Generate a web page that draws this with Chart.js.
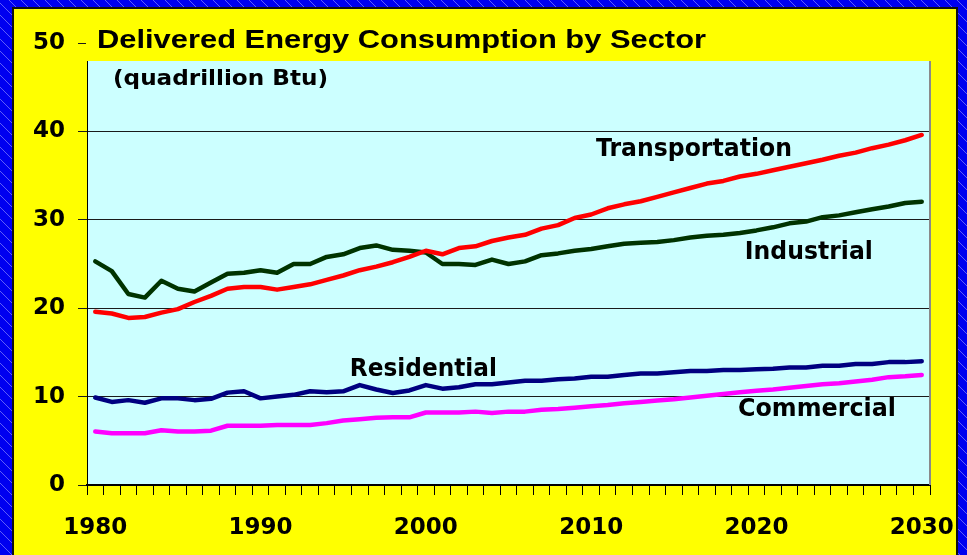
<!DOCTYPE html>
<html lang="en">
<head>
<meta charset="UTF-8">
<title>Delivered Energy Consumption by Sector</title>
<script src="https://cdn.jsdelivr.net/npm/chart.js@4.4.1/dist/chart.umd.min.js"></script>
<style>
  html, body { margin: 0; padding: 0; background: #0000f0; overflow: hidden; }
  canvas { display: block; }
</style>
</head>
<body>
<canvas id="chart" width="967" height="555"></canvas>
<script>
// years on the category axis
var years = [];
for (var yr = 1980; yr <= 2030; yr++) years.push(yr);

// quadrillion Btu
var transportation = [19.6, 19.4, 18.9, 19.0, 19.5, 19.9, 20.7, 21.4, 22.2, 22.4,
  22.4, 22.1, 22.4, 22.7, 23.2, 23.7, 24.3, 24.7, 25.2, 25.8,
  26.5, 26.1, 26.8, 27.0, 27.6, 28.0, 28.3, 29.0, 29.4, 30.2,
  30.6, 31.3, 31.75, 32.1, 32.6, 33.1, 33.6, 34.1, 34.4, 34.9,
  35.2, 35.6, 36.0, 36.4, 36.8, 37.25, 37.6, 38.1, 38.5, 39.0,
  39.6];
var industrial = [25.3, 24.2, 21.6, 21.2, 23.1, 22.2, 21.9, 22.9, 23.9, 24.0,
  24.3, 24.0, 25.0, 25.0, 25.8, 26.1, 26.8, 27.1, 26.6, 26.5,
  26.3, 25.0, 25.0, 24.9, 25.5, 25.0, 25.3, 26.0, 26.2, 26.5,
  26.7, 27.0, 27.3, 27.4, 27.5, 27.7, 28.0, 28.2, 28.3, 28.5,
  28.8, 29.15, 29.6, 29.8, 30.3, 30.5, 30.85, 31.2, 31.5, 31.9,
  32.05];
var residential = [9.9, 9.4, 9.6, 9.3, 9.8, 9.8, 9.6, 9.75, 10.45, 10.6,
  9.8, 10.0, 10.2, 10.6, 10.5, 10.6, 11.3, 10.8, 10.4, 10.7,
  11.3, 10.9, 11.05, 11.4, 11.4, 11.6, 11.8, 11.8, 11.95, 12.05,
  12.25, 12.25, 12.45, 12.6, 12.6, 12.75, 12.9, 12.9, 13.0, 13.0,
  13.1, 13.15, 13.3, 13.3, 13.5, 13.5, 13.7, 13.7, 13.9, 13.9,
  14.0];
var commercial = [6.05, 5.85, 5.85, 5.85, 6.2, 6.05, 6.05, 6.15, 6.7, 6.7,
  6.7, 6.8, 6.8, 6.8, 7.0, 7.3, 7.45, 7.6, 7.65, 7.65,
  8.2, 8.2, 8.2, 8.3, 8.15, 8.3, 8.3, 8.5, 8.6, 8.75,
  8.9, 9.05, 9.25, 9.4, 9.55, 9.7, 9.9, 10.1, 10.3, 10.5,
  10.65, 10.8, 11.0, 11.2, 11.4, 11.5, 11.7, 11.9, 12.2, 12.3,
  12.45];

var seriesNames = ['Transportation', 'Industrial', 'Residential', 'Commercial'];
var yTicks = [0, 10, 20, 30, 40, 50];

var TICK_FONT = 'DejaVu Sans';

// draws text squeezed/stretched to a given width
function fitText(ctx, text, x, y, width, font, align) {
  ctx.save();
  ctx.font = font;
  var w = ctx.measureText(text).width;
  var sx = width / w;
  var left = align === 'center' ? x - width / 2 : x;
  ctx.translate(left, y);
  ctx.scale(sx, 1);
  ctx.textAlign = 'left';
  ctx.textBaseline = 'alphabetic';
  ctx.fillText(text, 0, 0);
  ctx.restore();
}

var backdrop = {
  id: 'backdrop',
  beforeDraw: function (chart) {
    var ctx = chart.ctx, W = chart.width, H = chart.height, a = chart.chartArea;
    ctx.save();
    ctx.fillStyle = '#0000f0';
    ctx.fillRect(0, 0, W, H);
    ctx.strokeStyle = 'rgba(170,170,255,0.55)';
    ctx.lineWidth = 1;
    for (var k = -H; k < W; k += 12) {
      ctx.beginPath();
      ctx.moveTo(k, 0);
      ctx.lineTo(k + H, H);
      ctx.stroke();
    }
    ctx.fillStyle = '#ffff00';
    ctx.fillRect(13, 8, 944, H);
    ctx.strokeStyle = '#111';
    ctx.lineWidth = 2;
    ctx.strokeRect(13, 8, 944, H + 10);
    ctx.fillStyle = '#ccffff';
    ctx.fillRect(a.left, a.top, a.right - a.left, a.bottom - a.top);
    ctx.restore();
  },
  afterDraw: function (chart) {
    var ctx = chart.ctx, a = chart.chartArea;
    var xs = chart.scales.x, ys = chart.scales.y;
    ctx.save();
    // grey right edge of plot
    ctx.strokeStyle = '#8a8a8a';
    ctx.lineWidth = 2;
    ctx.beginPath();
    ctx.moveTo(a.right, a.top);
    ctx.lineTo(a.right, a.bottom);
    ctx.stroke();
    // title box over top of plot
    ctx.fillStyle = '#ffff00';
    ctx.fillRect(86, 9, 848, 52);
    ctx.fillStyle = '#000';
    fitText(ctx, 'Delivered Energy Consumption by Sector', 97, 48, 609, 'bold 26.5px "Liberation Sans"', 'left');
    fitText(ctx, '(quadrillion Btu)', 113, 85, 215, 'bold 22px "DejaVu Sans"', 'left');
    // series names next to lines
    var tags = [
      { i: 0, at: 36.22, v: 37.2, w: 196 },
      { i: 1, at: 43.17, v: 25.57, w: 128 },
      { i: 2, at: 19.85, v: 12.33, w: 147 },
      { i: 3, at: 43.66, v: 7.8, w: 158 }
    ];
    tags.forEach(function (t) {
      fitText(ctx, seriesNames[t.i], xs.getPixelForValue(t.at), ys.getPixelForValue(t.v),
        t.w, 'bold 25px "DejaVu Sans"', 'center');
    });
    ctx.restore();
  }
};

function line(label, data, color) {
  return {
    label: label,
    data: data,
    borderColor: color,
    backgroundColor: color,
    borderWidth: 4.5,
    pointRadius: 0,
    tension: 0,
    fill: false,
    borderJoinStyle: 'round',
    borderCapStyle: 'round'
  };
}

var ctx = document.getElementById('chart').getContext('2d');
new Chart(ctx, {
  type: 'line',
  data: {
    labels: years,
    datasets: [
      line(seriesNames[3], commercial, '#ff00ff'),
      line(seriesNames[2], residential, '#000080'),
      line(seriesNames[0], transportation, '#ff0000'),
      line(seriesNames[1], industrial, '#003300')
    ]
  },
  options: {
    responsive: false,
    animation: false,
    devicePixelRatio: 1,
    layout: { padding: { top: 43, right: 37, left: 0, bottom: 0 } },
    plugins: { legend: { display: false }, tooltip: { enabled: false } },
    scales: {
      x: {
        offset: true,
        grid: { display: true, drawOnChartArea: false, drawTicks: true, tickLength: 10, color: '#000', offset: true },
        border: { display: true, color: '#000', width: 2 },
        ticks: {
          autoSkip: false,
          maxRotation: 0,
          padding: 19,
          color: '#000',
          font: { family: TICK_FONT, weight: 'bold', size: 23 },
          callback: function (val, idx) {
            var y = years[idx];
            return y % 10 === 0 ? String(y) : '';
          }
        },
        afterFit: function (s) {
          s.height = 70;
          s.paddingLeft = 0;
          s.paddingRight = 0;
        }
      },
      y: {
        min: 0,
        max: 50,
        afterBuildTicks: function (s) { s.ticks = yTicks.map(function (v) { return { value: v }; }); },
        grid: { color: '#1a1a1a', lineWidth: 1, tickLength: 9, drawTicks: true },
        border: { display: true, color: '#000', width: 1 },
        ticks: {
          padding: 13,
          color: '#000',
          font: { family: TICK_FONT, weight: 'bold', size: 23 }
        },
        afterFit: function (s) {
          s.width = 87;
          s.paddingTop = 0;
          s.paddingBottom = 0;
        }
      }
    }
  },
  plugins: [backdrop]
});
</script>
</body>
</html>
